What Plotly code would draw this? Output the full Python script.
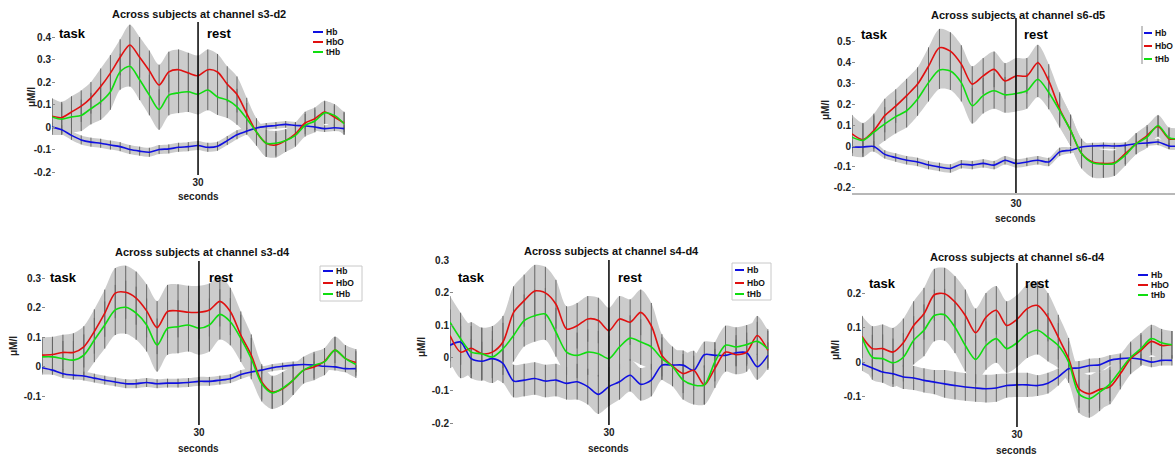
import plotly.graph_objects as go

W, H = 1175, 457
FONT = "Liberation Sans, Arial, sans-serif"

# ---------------- data ----------------
t = [0, 2, 4, 6, 8, 10, 12, 14, 16, 18, 20, 22, 24, 26, 28, 30,
     32, 34, 36, 38, 40, 42, 44, 46, 48, 50, 52, 54, 56, 58, 60]
STIM_T = 30
series_names = ["Hb", "HbO", "tHb"]

# channel s3-d2
s3d2_hb = [0.0, -0.012, -0.037, -0.057, -0.067, -0.072, -0.08, -0.087, -0.1, -0.107, -0.112, -0.1, -0.097, -0.09, -0.087, -0.082,
           -0.09, -0.085, -0.06, -0.034, -0.018, -0.004, 0.003, 0.007, 0.012, 0.007, 0.006, 0.0, -0.007, -0.003, -0.007]
s3d2_hbo = [0.048, 0.042, 0.067, 0.093, 0.13, 0.18, 0.24, 0.31, 0.365, 0.31, 0.25, 0.187, 0.245, 0.255, 0.24, 0.228,
            0.255, 0.245, 0.19, 0.145, 0.06, -0.022, -0.072, -0.08, -0.06, -0.03, 0.018, 0.037, 0.067, 0.045, 0.018]
s3d2_thb = [0.045, 0.035, 0.045, 0.052, 0.082, 0.112, 0.157, 0.246, 0.27, 0.21, 0.142, 0.078, 0.142, 0.152, 0.157, 0.146,
            0.165, 0.134, 0.12, 0.09, 0.037, -0.022, -0.072, -0.072, -0.06, -0.037, 0.008, 0.027, 0.063, 0.052, 0.015]
s3d2_err = [0.08, 0.07, 0.07, 0.07, 0.07, 0.08, 0.08, 0.08, 0.09, 0.09, 0.09, 0.09, 0.09, 0.09, 0.09, 0.09,
            0.09, 0.08, 0.08, 0.08, 0.07, 0.06, 0.06, 0.055, 0.05, 0.05, 0.05, 0.05, 0.05, 0.05, 0.05]
s3d2_err_hb = [0.02, 0.02, 0.02, 0.02, 0.02, 0.02, 0.02, 0.02, 0.02, 0.02, 0.02, 0.02, 0.02, 0.02, 0.02, 0.02,
               0.02, 0.02, 0.02, 0.02, 0.015, 0.015, 0.015, 0.015, 0.015, 0.015, 0.015, 0.015, 0.015, 0.015, 0.015]

# channel s6-d5
s6d5_hb = [-0.005, -0.005, -0.002, -0.04, -0.055, -0.068, -0.076, -0.091, -0.1, -0.107, -0.087, -0.091, -0.083, -0.091, -0.068, -0.083,
           -0.076, -0.068, -0.076, -0.028, -0.02, -0.005, 0.0, 0.002, 0.0, 0.003, 0.011, 0.014, 0.019, 0.0, 0.0]
s6d5_hbo = [0.058, 0.03, 0.074, 0.145, 0.19, 0.24, 0.295, 0.38, 0.468, 0.452, 0.39, 0.295, 0.334, 0.365, 0.31, 0.334,
            0.334, 0.397, 0.31, 0.176, 0.074, -0.036, -0.076, -0.083, -0.08, -0.036, 0.011, 0.05, 0.093, 0.035, 0.035]
s6d5_thb = [0.042, 0.027, 0.066, 0.105, 0.14, 0.168, 0.224, 0.302, 0.362, 0.357, 0.302, 0.192, 0.24, 0.263, 0.244, 0.25,
            0.263, 0.318, 0.255, 0.168, 0.074, -0.036, -0.08, -0.087, -0.083, -0.044, 0.011, 0.042, 0.098, 0.039, 0.035]
s6d5_err = [0.09, 0.08, 0.08, 0.08, 0.08, 0.08, 0.08, 0.09, 0.09, 0.09, 0.09, 0.085, 0.085, 0.085, 0.085, 0.085,
            0.085, 0.085, 0.08, 0.08, 0.075, 0.07, 0.07, 0.065, 0.06, 0.05, 0.05, 0.05, 0.05, 0.05, 0.05]
s6d5_err_hb = [0.03, 0.03, 0.025, 0.02, 0.02, 0.02, 0.02, 0.02, 0.02, 0.02, 0.02, 0.02, 0.02, 0.02, 0.02, 0.02,
               0.02, 0.02, 0.02, 0.02, 0.015, 0.015, 0.015, 0.015, 0.015, 0.015, 0.015, 0.015, 0.015, 0.015, 0.015]

# channel s3-d4
s3d4_hb = [-0.003, -0.011, -0.023, -0.028, -0.031, -0.038, -0.045, -0.051, -0.057, -0.057, -0.053, -0.057, -0.055, -0.055, -0.053, -0.049,
           -0.049, -0.045, -0.04, -0.026, -0.017, -0.011, -0.003, 0.002, 0.006, 0.008, 0.006, 0.002, 0.0, -0.006, -0.006]
s3d4_hbo = [0.04, 0.042, 0.049, 0.049, 0.068, 0.12, 0.182, 0.25, 0.253, 0.233, 0.19, 0.133, 0.188, 0.19, 0.185, 0.185,
            0.193, 0.222, 0.188, 0.108, 0.04, -0.051, -0.085, -0.074, -0.045, -0.011, 0.0, 0.019, 0.057, 0.028, 0.015]
s3d4_thb = [0.034, 0.034, 0.028, 0.023, 0.04, 0.091, 0.142, 0.193, 0.202, 0.182, 0.142, 0.074, 0.131, 0.136, 0.142, 0.131,
            0.142, 0.178, 0.153, 0.097, 0.028, -0.057, -0.088, -0.072, -0.045, -0.011, 0.006, 0.017, 0.057, 0.028, 0.008]
s3d4_err = [0.06, 0.06, 0.06, 0.065, 0.07, 0.075, 0.08, 0.085, 0.09, 0.09, 0.09, 0.09, 0.09, 0.09, 0.09, 0.09,
            0.09, 0.085, 0.08, 0.08, 0.07, 0.06, 0.055, 0.055, 0.05, 0.045, 0.045, 0.045, 0.045, 0.045, 0.045]
s3d4_err_hb = [0.015, 0.015, 0.015, 0.015, 0.015, 0.015, 0.015, 0.015, 0.015, 0.015, 0.015, 0.015, 0.015, 0.015, 0.015, 0.015,
               0.015, 0.015, 0.015, 0.015, 0.012, 0.012, 0.012, 0.012, 0.012, 0.012, 0.012, 0.012, 0.012, 0.012, 0.012]

# channel s4-d4
s4d4_hb = [0.039, 0.049, -0.002, -0.01, -0.002, -0.017, -0.071, -0.068, -0.063, -0.071, -0.068, -0.078, -0.073, -0.088, -0.112, -0.088,
           -0.073, -0.053, -0.081, -0.068, -0.022, -0.022, -0.022, -0.038, 0.01, 0.008, 0.008, 0.016, 0.016, -0.027, 0.008]
s4d4_hbo = [0.069, 0.018, 0.03, 0.013, 0.018, 0.049, 0.14, 0.176, 0.206, 0.2, 0.165, 0.089, 0.099, 0.12, 0.115, 0.084,
            0.12, 0.11, 0.14, 0.099, 0.008, -0.025, -0.048, -0.038, -0.083, -0.032, 0.018, 0.01, 0.018, 0.069, 0.023]
s4d4_thb = [0.11, 0.059, 0.018, 0.013, 0.003, 0.028, 0.069, 0.115, 0.13, 0.135, 0.079, 0.018, 0.008, 0.018, 0.013, -0.002,
            0.034, 0.061, 0.049, 0.034, -0.002, -0.027, -0.068, -0.083, -0.083, -0.012, 0.039, 0.034, 0.041, 0.051, 0.028]
s4d4_err = [0.08, 0.08, 0.08, 0.08, 0.08, 0.08, 0.08, 0.08, 0.08, 0.08, 0.075, 0.07, 0.07, 0.07, 0.07, 0.07,
            0.07, 0.07, 0.07, 0.07, 0.065, 0.06, 0.06, 0.06, 0.06, 0.06, 0.06, 0.06, 0.06, 0.06, 0.06]
s4d4_err_hb = [0.07, 0.07, 0.06, 0.06, 0.06, 0.06, 0.05, 0.05, 0.05, 0.05, 0.05, 0.05, 0.055, 0.055, 0.06, 0.06,
               0.055, 0.05, 0.05, 0.05, 0.045, 0.045, 0.045, 0.045, 0.04, 0.04, 0.04, 0.04, 0.04, 0.04, 0.04]

# channel s6-d4
s6d4_hb = [-0.005, -0.017, -0.029, -0.034, -0.043, -0.046, -0.053, -0.058, -0.063, -0.068, -0.072, -0.075, -0.077, -0.075, -0.068, -0.066,
           -0.066, -0.068, -0.061, -0.043, -0.019, -0.017, -0.01, -0.008, 0.005, 0.01, 0.012, 0.008, 0.0, 0.005, 0.005]
s6d4_hbo = [0.074, 0.039, 0.039, 0.029, 0.056, 0.106, 0.14, 0.195, 0.198, 0.174, 0.135, 0.085, 0.13, 0.15, 0.106, 0.124,
            0.155, 0.164, 0.13, 0.072, 0.01, -0.077, -0.092, -0.079, -0.072, -0.034, 0.01, 0.034, 0.06, 0.048, 0.05]
s6d4_thb = [0.072, 0.014, 0.01, -0.002, 0.014, 0.063, 0.092, 0.135, 0.137, 0.101, 0.048, 0.008, 0.048, 0.068, 0.039, 0.056,
            0.082, 0.092, 0.072, 0.048, 0.0, -0.092, -0.106, -0.087, -0.063, -0.024, 0.014, 0.039, 0.068, 0.056, 0.05]
s6d4_err = [0.06, 0.065, 0.07, 0.07, 0.07, 0.07, 0.075, 0.075, 0.075, 0.075, 0.075, 0.07, 0.07, 0.07, 0.07, 0.07,
            0.07, 0.07, 0.07, 0.065, 0.06, 0.055, 0.055, 0.055, 0.05, 0.045, 0.045, 0.045, 0.04, 0.04, 0.04]
s6d4_err_hb = [0.02, 0.025, 0.03, 0.03, 0.035, 0.035, 0.035, 0.035, 0.04, 0.04, 0.04, 0.04, 0.04, 0.04, 0.035, 0.035,
               0.035, 0.03, 0.03, 0.025, 0.02, 0.02, 0.02, 0.02, 0.015, 0.015, 0.015, 0.015, 0.015, 0.015, 0.015]

titles = ["Across subjects at channel s3-d2", "Across subjects at channel s6-d5",
          "Across subjects at channel s3-d4", "Across subjects at channel s4-d4",
          "Across subjects at channel s6-d4"]
ytick_vals = [[-0.2, -0.1, 0, 0.1, 0.2, 0.3, 0.4],
              [-0.2, -0.1, 0, 0.1, 0.2, 0.3, 0.4, 0.5],
              [-0.1, 0, 0.1, 0.2, 0.3],
              [-0.2, -0.1, 0, 0.1, 0.2, 0.3],
              [-0.1, 0, 0.1, 0.2]]
ytick_text = [["-0.2", "-0.1", "0", "0.1", "0.2", "0.3", "0.4"],
              ["-0.2", "-0.1", "0", "0.1", "0.2", "0.3", "0.4", "0.5"],
              ["-0.1", "0", "0.1", "0.2", "0.3"],
              ["-0.2", "-0.1", "0", "0.1", "0.2", "0.3"],
              ["-0.1", "0", "0.1", "0.2"]]

# ---------------- layout geometry (pixels) ----------------
def fx(p):
    return p / W

def fy(p):
    return 1 - p / H

panels = [
    dict(hb=s3d2_hb, hbo=s3d2_hbo, thb=s3d2_thb, e=s3d2_err, ehb=s3d2_err_hb,
         box=(52, 348, 22, 175), xr=[0, 60.8], yr=[-0.213, 0.467],
         title=(199, 14), task=(57, 34), rest=(205, 34), ylab=(31, 97), xlab=197,
         leg=dict(l0=313, l1=323, tx=324, rows=(32, 42, 52), frame=None), xline=False),
    dict(hb=s6d5_hb, hbo=s6d5_hbo, thb=s6d5_thb, e=s6d5_err, ehb=s6d5_err_hb,
         box=(852, 1175, 18, 193), xr=[0, 59.1], yr=[-0.224, 0.61],
         title=(1018, 15), task=(859, 35), rest=(1022, 35), ylab=(825, 110), xlab=218,
         leg=dict(l0=1144, l1=1152, tx=1153, rows=(33, 46, 59), frame="left", fb=(1142, 1190, 26, 64)), xline=True),
    dict(hb=s3d4_hb, hbo=s3d4_hbo, thb=s3d4_thb, e=s3d4_err, ehb=s3d4_err_hb,
         box=(42, 358, 261, 425), xr=[0, 60.4], yr=[-0.197, 0.359],
         title=(202, 252), task=(48, 277), rest=(207, 277), ylab=(13, 346), xlab=448,
         leg=dict(l0=323, l1=333, tx=334, rows=(271, 283, 294), frame="box", fb=(320, 362, 266, 301)), xline=False),
    dict(hb=s4d4_hb, hbo=s4d4_hbo, thb=s4d4_thb, e=s4d4_err, ehb=s4d4_err_hb,
         box=(450, 770, 260, 425), xr=[0, 60.4], yr=[-0.206, 0.301],
         title=(611, 251), task=(456, 277), rest=(616, 277), ylab=(421, 347), xlab=448,
         leg=dict(l0=735, l1=744, tx=745, rows=(270, 283, 294), frame="box", fb=(732, 771, 263, 300)), xline=False),
    dict(hb=s6d4_hb, hbo=s6d4_hbo, thb=s6d4_thb, e=s6d4_err, ehb=s6d4_err_hb,
         box=(862, 1173, 263, 427), xr=[0, 60.2], yr=[-0.188, 0.287],
         title=(1017, 257), task=(867, 283), rest=(1023, 283), ylab=(835, 350), xlab=450,
         leg=dict(l0=1138, l1=1148, tx=1149, rows=(275, 285, 295), frame=None), xline=False),
]

COL = {"Hb": "#1010e0", "HbO": "#e01010", "tHb": "#10dd10"}
BAND = "rgb(204,204,204)"
BAR = "#666666"

fig = go.Figure()
layout = dict(width=W, height=H, autosize=False, template="none",
              margin=dict(l=0, r=0, t=0, b=0), paper_bgcolor="white", plot_bgcolor="rgba(0,0,0,0)",
              showlegend=False, font=dict(family=FONT, color="#111"))
annotations = []
shapes = []

for i, p in enumerate(panels, start=1):
    xa = "x" if i == 1 else f"x{i}"
    ya = "y" if i == 1 else f"y{i}"
    x0, x1, ytop, ybot = p["box"]
    series = [("Hb", p["hb"], p["ehb"]), ("HbO", p["hbo"], p["e"]), ("tHb", p["thb"], p["e"])]
    # error bands
    for name, vals, err in series:
        up = [v + e for v, e in zip(vals, err)]
        lo = [v - e for v, e in zip(vals, err)]
        fig.add_trace(go.Scatter(x=t, y=up, mode="lines", line=dict(width=0, color=BAND, shape="spline", smoothing=0.8),
                                 xaxis=xa, yaxis=ya, hoverinfo="skip"))
        fig.add_trace(go.Scatter(x=t, y=lo, mode="lines", line=dict(width=0, color=BAND, shape="spline", smoothing=0.8),
                                 fill="tonexty", fillcolor=BAND, xaxis=xa, yaxis=ya, hoverinfo="skip"))
    # error bars
    for name, vals, err in series:
        fig.add_trace(go.Scatter(x=t, y=vals, mode="markers",
                                 marker=dict(size=1, color="rgba(0,0,0,0)"),
                                 error_y=dict(type="data", array=err, color=BAR, thickness=1, width=0),
                                 xaxis=xa, yaxis=ya, hoverinfo="skip"))
    # mean lines
    for name, vals, err in series:
        fig.add_trace(go.Scatter(x=t, y=vals, mode="lines", name=name,
                                 line=dict(color=COL[name], width=1.6, shape="spline", smoothing=0.8),
                                 xaxis=xa, yaxis=ya))

    layout["xaxis" if i == 1 else f"xaxis{i}"] = dict(
        domain=[fx(x0), fx(x1)], range=p["xr"], anchor=ya, tickvals=[STIM_T], ticktext=["30"],
        ticks="", showgrid=False, zeroline=False, showline=p["xline"], linecolor="#b8b8b8", linewidth=1.5,
        tickfont=dict(size=10, family=FONT, color="#222", weight="bold"), automargin=False)
    layout["yaxis" if i == 1 else f"yaxis{i}"] = dict(
        domain=[fy(ybot), fy(ytop)], range=p["yr"], anchor=xa, tickvals=ytick_vals[i - 1],
        ticktext=ytick_text[i - 1], ticks="inside", ticklen=3, tickcolor="#888", showgrid=False,
        zeroline=False, showline=False, tickfont=dict(size=10, family=FONT, color="#222", weight="bold"),
        automargin=False)

    # stimulus-offset line
    shapes.append(dict(type="line", xref=xa, yref=f"{ya} domain", x0=STIM_T, x1=STIM_T, y0=0, y1=1,
                       line=dict(color="#111", width=1.6)))

    # texts
    annotations.append(dict(text=titles[i - 1], x=fx(p["title"][0]), y=fy(p["title"][1]), xref="paper", yref="paper",
                            showarrow=False, xanchor="center", yanchor="middle",
                            font=dict(size=11, family=FONT, color="#111", weight="bold")))
    for word, pos in (("task", p["task"]), ("rest", p["rest"])):
        annotations.append(dict(text=word, x=fx(pos[0]), y=fy(pos[1]), xref="paper", yref="paper",
                                showarrow=False, xanchor="left", yanchor="middle",
                                font=dict(size=13, family=FONT, color="#000", weight="bold")))
    annotations.append(dict(text="μM/l", x=fx(p["ylab"][0]), y=fy(p["ylab"][1]), xref="paper", yref="paper",
                            showarrow=False, textangle=-90, xanchor="center", yanchor="middle",
                            font=dict(size=10, family=FONT, color="#222", weight="bold")))
    annotations.append(dict(text="seconds", x=STIM_T, xref=xa, y=fy(p["xlab"]), yref="paper",
                            showarrow=False, xanchor="center", yanchor="middle",
                            font=dict(size=10, family=FONT, color="#222", weight="bold")))

    # legend
    lg = p["leg"]
    if lg["frame"] == "box":
        fb = lg["fb"]
        shapes.append(dict(type="rect", xref="paper", yref="paper", x0=fx(fb[0]), x1=fx(fb[1]),
                           y0=fy(fb[3]), y1=fy(fb[2]), line=dict(color="#c8c8c8", width=1), fillcolor="white"))
    elif lg["frame"] == "left":
        fb = lg["fb"]
        shapes.append(dict(type="line", xref="paper", yref="paper", x0=fx(fb[0]), x1=fx(fb[0]),
                           y0=fy(fb[3]), y1=fy(fb[2]), line=dict(color="#8a8a8a", width=1)))
    for name, row in zip(series_names, lg["rows"]):
        shapes.append(dict(type="line", xref="paper", yref="paper", x0=fx(lg["l0"]), x1=fx(lg["l1"]),
                           y0=fy(row), y1=fy(row), line=dict(color=COL[name], width=2)))
        annotations.append(dict(text=name, x=fx(lg["tx"]), y=fy(row), xref="paper", yref="paper",
                                showarrow=False, xanchor="left", yanchor="middle",
                                font=dict(size=8.5, family=FONT, color="#111", weight="bold")))

layout["annotations"] = annotations
layout["shapes"] = shapes
fig.update_layout(**layout)

fig.write_html("out.html", config={"displayModeBar": False},
               post_script="document.body.style.margin='0';document.body.style.overflow='hidden';")
